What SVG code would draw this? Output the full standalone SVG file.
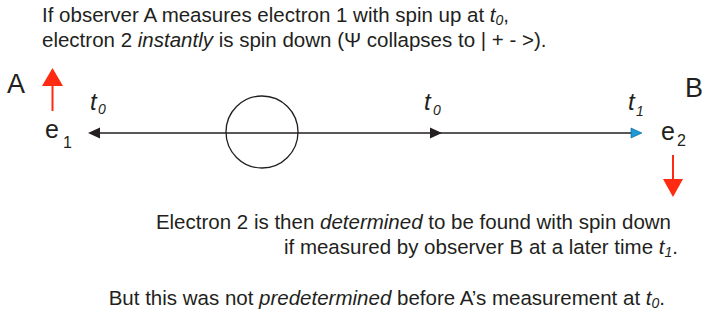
<svg xmlns="http://www.w3.org/2000/svg" width="705" height="320" viewBox="0 0 705 320">
<style>
text{font-family:"Liberation Sans",Arial,sans-serif;fill:#231f20}
.cap{font-size:20.5px}
.big{font-size:27px}
.e{font-size:25px}
.t{font-size:24px;font-style:italic}
.it{font-style:italic}
.sub{font-size:14px;font-style:italic}
.esub{font-size:16px}
.line{stroke:#231f20;stroke-width:1.3;fill:none}
.red{stroke:#ff2a12;stroke-width:2;fill:none}
</style>
<g id="caption-top">
<text class="cap" x="42" y="22">If observer A measures electron 1 with spin up at <tspan class="it">t</tspan><tspan class="sub" dy="3">0</tspan><tspan dy="-3">,</tspan></text>
<text class="cap" x="42" y="47">electron 2 <tspan class="it">instantly</tspan> is spin down (Ψ collapses to | + - &gt;).</text>
</g>
<g id="connectors">
<line class="line" x1="98" y1="133" x2="632" y2="133"/>
<path d="M88,133 L100,127.5 L100,138.5 Z" fill="#231f20"/>
<path d="M430,127.5 L442,133 L430,138.5 Z" fill="#231f20"/>
<path d="M631,128 L642,133 L631,138 Z" fill="#1a9ad6" stroke="#0b5f8a" stroke-width="0.6"/>
<line class="red" x1="52.5" y1="111" x2="52.5" y2="84"/>
<path d="M42,86 L52.5,68 L63,86 Z" fill="#ff2a12"/>
<line class="red" x1="673" y1="155" x2="673" y2="181"/>
<path d="M663,179 L673,197 L683,179 Z" fill="#ff2a12"/>
</g>
<g id="entangled-pair">
<circle cx="262" cy="132" r="36" fill="none" stroke="#231f20" stroke-width="1.3"/>
</g>
<g id="observer-A">
<text class="big" x="7" y="93">A</text>
<text class="e" x="45" y="138">e</text>
<text class="esub" x="63" y="148">1</text>
<text class="t" x="90" y="110">t</text>
<text class="sub" x="98" y="114">0</text>
</g>
<g id="midpoint">
<text class="t" x="424" y="110">t</text>
<text class="sub" x="433" y="115">0</text>
</g>
<g id="observer-B">
<text class="t" x="628" y="110">t</text>
<text class="sub" x="636" y="116">1</text>
<text class="big" x="685" y="97">B</text>
<text class="e" x="661" y="140">e</text>
<text class="esub" x="677" y="146">2</text>
</g>
<g id="caption-bottom">
<text class="cap" x="671" y="229" text-anchor="end">Electron 2 is then <tspan class="it">determined</tspan> to be found with spin down</text>
<text class="cap" x="678" y="254" text-anchor="end">if measured by observer B at a later time <tspan class="it">t</tspan><tspan class="sub" dy="3">1</tspan><tspan dy="-3">.</tspan></text>
<text class="cap" x="665" y="305" text-anchor="end">But this was not <tspan class="it">predetermined</tspan> before A’s measurement at <tspan class="it">t</tspan><tspan class="sub" dy="3">0</tspan><tspan dy="-3">.</tspan></text>
</g>
</svg>
